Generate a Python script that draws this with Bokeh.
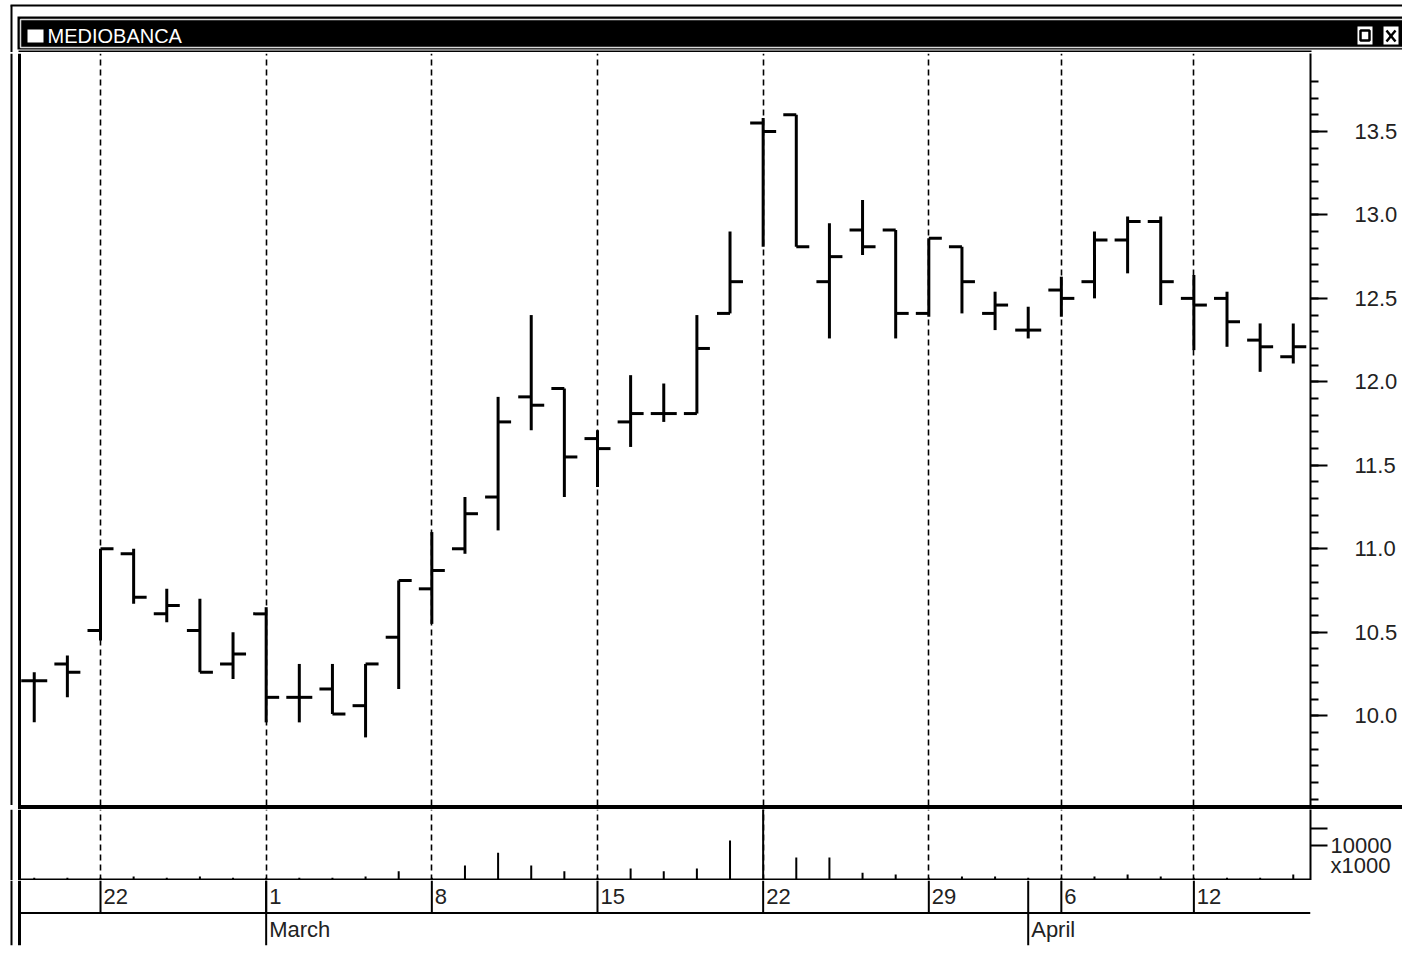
import numpy as np
from bokeh.plotting import figure
from bokeh.models import ColumnDataSource, Range1d, FixedTicker, Span, Div, Spacer
from bokeh.layouts import column, row
from bokeh.embed import file_html
from bokeh.resources import INLINE
from bokeh.core.properties import value

# ---------------- data ----------------
dates = ["2010-02-18", "2010-02-19", "2010-02-22", "2010-02-23", "2010-02-24", "2010-02-25",
         "2010-02-26", "2010-03-01", "2010-03-02", "2010-03-03", "2010-03-04", "2010-03-05",
         "2010-03-08", "2010-03-09", "2010-03-10", "2010-03-11", "2010-03-12", "2010-03-15",
         "2010-03-16", "2010-03-17", "2010-03-18", "2010-03-19", "2010-03-22", "2010-03-23",
         "2010-03-24", "2010-03-25", "2010-03-26", "2010-03-29", "2010-03-30", "2010-03-31",
         "2010-04-01", "2010-04-06", "2010-04-07", "2010-04-08", "2010-04-09", "2010-04-12",
         "2010-04-13", "2010-04-14", "2010-04-15"]
opens = [10.21, 10.31, 10.51, 10.97, 10.61, 10.51, 10.31, 10.61, 10.11, 10.16, 10.06, 10.47,
         10.76, 11.00, 11.31, 11.91, 11.96, 11.66, 11.76, 11.81, 11.81, 12.41, 13.55, 13.60,
         12.60, 12.91, 12.91, 12.41, 12.81, 12.41, 12.31, 12.55, 12.60, 12.85, 12.96, 12.50,
         12.50, 12.25, 12.15]
highs = [10.26, 10.36, 11.00, 11.00, 10.76, 10.70, 10.50, 10.65, 10.31, 10.31, 10.31, 10.81,
         11.10, 11.31, 11.91, 12.40, 11.96, 11.71, 12.04, 11.99, 12.40, 12.90, 13.58, 13.60,
         12.95, 13.09, 12.91, 12.86, 12.81, 12.54, 12.45, 12.63, 12.90, 12.99, 12.99, 12.64,
         12.54, 12.35, 12.35]
lows = [9.96, 10.11, 10.45, 10.67, 10.56, 10.26, 10.22, 9.96, 9.96, 10.01, 9.87, 10.16,
        10.55, 10.97, 11.11, 11.71, 11.31, 11.37, 11.61, 11.76, 11.81, 12.41, 12.81, 12.81,
        12.26, 12.76, 12.26, 12.39, 12.41, 12.31, 12.26, 12.39, 12.50, 12.65, 12.46, 12.19,
        12.21, 12.06, 12.11]
closes = [10.21, 10.26, 11.00, 10.71, 10.66, 10.26, 10.37, 10.11, 10.11, 10.01, 10.31, 10.81,
          10.87, 11.21, 11.76, 11.86, 11.55, 11.60, 11.81, 11.81, 12.20, 12.60, 13.50, 12.81,
          12.75, 12.81, 12.41, 12.86, 12.60, 12.46, 12.31, 12.50, 12.85, 12.96, 12.60, 12.46,
          12.36, 12.21, 12.21]
volumes = [500, 500, 500, 900, 500, 900, 500, 500, 500, 500, 900, 2400,
           500, 4100, 7900, 4100, 2400, 500, 3200, 2400, 3200, 11500, 25000, 6500,
           6500, 2000, 1500, 500, 900, 900, 500, 500, 900, 1500, 900, 500,
           500, 500, 1500]  # x1000

week_dates = ["2010-02-22", "2010-03-01", "2010-03-08", "2010-03-15", "2010-03-22",
              "2010-03-29", "2010-04-06", "2010-04-12"]
week_labels = ["22", "1", "8", "15", "22", "29", "6", "12"]
month_dates = ["2010-03-01", "2010-04-01"]
month_labels = ["March", "April"]
price_ticks = [10.0, 10.5, 11.0, 11.5, 12.0, 12.5, 13.0, 13.5]
price_labels = ["10.0", "10.5", "11.0", "11.5", "12.0", "12.5", "13.0", "13.5"]
price_minor = [round(9.5 + 0.1 * k, 1) for k in range(44)]
volume_label_pos = [10000, 4100]
volume_labels = ["10000", "x1000"]
volume_tick_marks = [10000, 15000]
title_text = "MEDIOBANCA"

# ---------------- layout constants ----------------
FONT = "Liberation Sans"
W = 1402
LEFT = 9
RIGHT = 92
PX_PER_DAY = 33.13
idx = [dates.index(d) for d in dates]
week_idx = [dates.index(d) for d in week_dates]
month_idx = [dates.index(d) for d in month_dates]

# index 2 (22 Feb) sits at page x 100; frame spans page x 9 .. 1310
xr = Range1d(2 - 91 / PX_PER_DAY, 38.52)


def px_to_x(px):
    return 2 + (px - 100) / PX_PER_DAY


OUTER_X = px_to_x(11)   # thin window edge
INNER_X = px_to_x(19)   # thick panel edge
src = ColumnDataSource(dict(x=idx, o=opens, h=highs, l=lows, c=closes, v=volumes))


def base_fig(height, y_range, **kw):
    f = figure(width=W, height=height, x_range=xr, y_range=y_range,
               output_backend="svg", toolbar_location=None,
               min_border_left=LEFT, min_border_right=RIGHT,
               min_border_top=0, min_border_bottom=0,
               x_axis_location=None, **kw)
    f.background_fill_color = "white"
    f.border_fill_color = "white"
    f.outline_line_color = None
    f.add_layout(Span(location=OUTER_X, dimension="height", line_color="black", line_width=2))
    f.add_layout(Span(location=INNER_X, dimension="height", line_color="black", line_width=3))
    return f


def style_right_axis(a):
    a.axis_line_width = 2
    a.major_tick_out = 17
    a.major_tick_in = 0
    a.minor_tick_out = 8
    a.minor_tick_in = 0
    a.major_tick_line_width = 2
    a.minor_tick_line_width = 2
    a.major_label_text_font = FONT
    a.major_label_text_font_size = "22px"
    a.major_label_text_color = "#222222"


def week_grid(f):
    f.ygrid.visible = False
    f.xgrid.ticker = FixedTicker(ticks=week_idx)
    f.xgrid.grid_line_color = "black"
    f.xgrid.grid_line_dash = "6 4"
    f.xgrid.grid_line_width = 1.6


# ---------------- title bar (pixel coordinates) ----------------
t = figure(width=W, height=52, x_range=Range1d(0, W), y_range=Range1d(0, 52),
           output_backend="svg", toolbar_location=None, min_border=0,
           x_axis_location=None, y_axis_location=None)
t.grid.visible = False
t.outline_line_color = None
t.segment(x0=[10, 11, 18], y0=[47, 47, 1], x1=[W, 11, 1311], y1=[47, 0, 1],
          line_color="black", line_width=2)
t.quad(left=17, right=W, bottom=3, top=36, fill_color="black", line_color=None)
t.quad(left=20, right=W + 5, bottom=5, top=33, fill_color=None, line_color="#d8d8d8", line_width=1.5)
t.quad(left=27, right=43, bottom=10, top=23, fill_color="white", line_color=None)
t.text(x=[47], y=[17], text=[title_text], text_color="white", text_font=value(FONT),
       text_font_size="20px", text_baseline="middle", text_align="left")
t.quad(left=1357, right=1372, bottom=8, top=26, fill_color="white", line_color=None)
t.quad(left=1360, right=1369, bottom=12, top=22, fill_color=None, line_color="black", line_width=2.5)
t.quad(left=1383, right=1398, bottom=8, top=26, fill_color="white", line_color=None)
t.segment(x0=[1386, 1386], y0=[11, 22], x1=[1395, 1395], y1=[22, 11], line_color="black", line_width=2.5)

# ---------------- price panel ----------------
p = base_fig(753, Range1d(9.462, 13.967), y_axis_location="right")
p.min_border_top = 1
week_grid(p)
ax = p.yaxis[0]
ax.ticker = FixedTicker(ticks=price_ticks, minor_ticks=price_minor)
ax.major_label_overrides = dict(zip(price_ticks, price_labels))
style_right_axis(ax)
ax.major_label_standoff = 27

p.segment(x0="x", y0="l", x1="x", y1="h", source=src, line_color="black", line_width=3)
p.ray(x="x", y="o", length=13, angle=np.pi, length_units="screen", source=src,
      line_color="black", line_width=3)
p.ray(x="x", y="c", length=13, angle=0, length_units="screen", source=src,
      line_color="black", line_width=3)

# ---------------- separator (thick black rule between the panels) ----------------
sep_gap = Spacer(width=18, height=4, margin=0)
sep_bar = Div(text="", width=W - 18, height=4, margin=0,
              styles={"background-color": "black", "overflow": "hidden"})
s = row(sep_gap, sep_bar, spacing=0)

# ---------------- volume panel ----------------
v = base_fig(71, Range1d(-294, 20587), y_axis_location="right")
week_grid(v)
vax = v.yaxis[0]
vax.ticker = FixedTicker(ticks=volume_label_pos, minor_ticks=volume_tick_marks)
vax.major_label_overrides = dict(zip(volume_label_pos, volume_labels))
style_right_axis(vax)
vax.major_tick_out = 0
vax.minor_tick_out = 17
vax.major_label_standoff = 3
v.segment(x0=[INNER_X], y0=[0], x1=[xr.end], y1=[0], line_color="black", line_width=2)
v.segment(x0="x", y0=0, x1="x", y1="v", source=src, line_color="black", line_width=2)

# ---------------- date rows ----------------
d = base_fig(72, Range1d(0, 2), y_axis_location=None)
d.min_border_bottom = 7
d.grid.visible = False
d.segment(x0=[INNER_X], y0=[1], x1=[xr.end], y1=[1], line_color="black", line_width=2)
d.segment(x0=week_idx, y0=[1] * len(week_idx), x1=week_idx, y1=[2] * len(week_idx),
          line_color="black", line_width=2)
d.segment(x0=month_idx, y0=[0] * len(month_idx), x1=month_idx, y1=[2] * len(month_idx),
          line_color="black", line_width=2)
d.text(x=week_idx, y=[1.5] * len(week_idx), text=week_labels, x_offset=3,
       text_font=value(FONT), text_font_size="22px", text_baseline="middle",
       text_align="left", text_color="#222222")
d.text(x=month_idx, y=[0.5] * len(month_idx), text=month_labels, x_offset=3,
       text_font=value(FONT), text_font_size="22px", text_baseline="middle",
       text_align="left", text_color="#222222")

layout = column(row(t), row(p), s, row(v), row(d), spacing=0)
open("out.html", "w").write(file_html(layout, INLINE, title="MEDIOBANCA"))
